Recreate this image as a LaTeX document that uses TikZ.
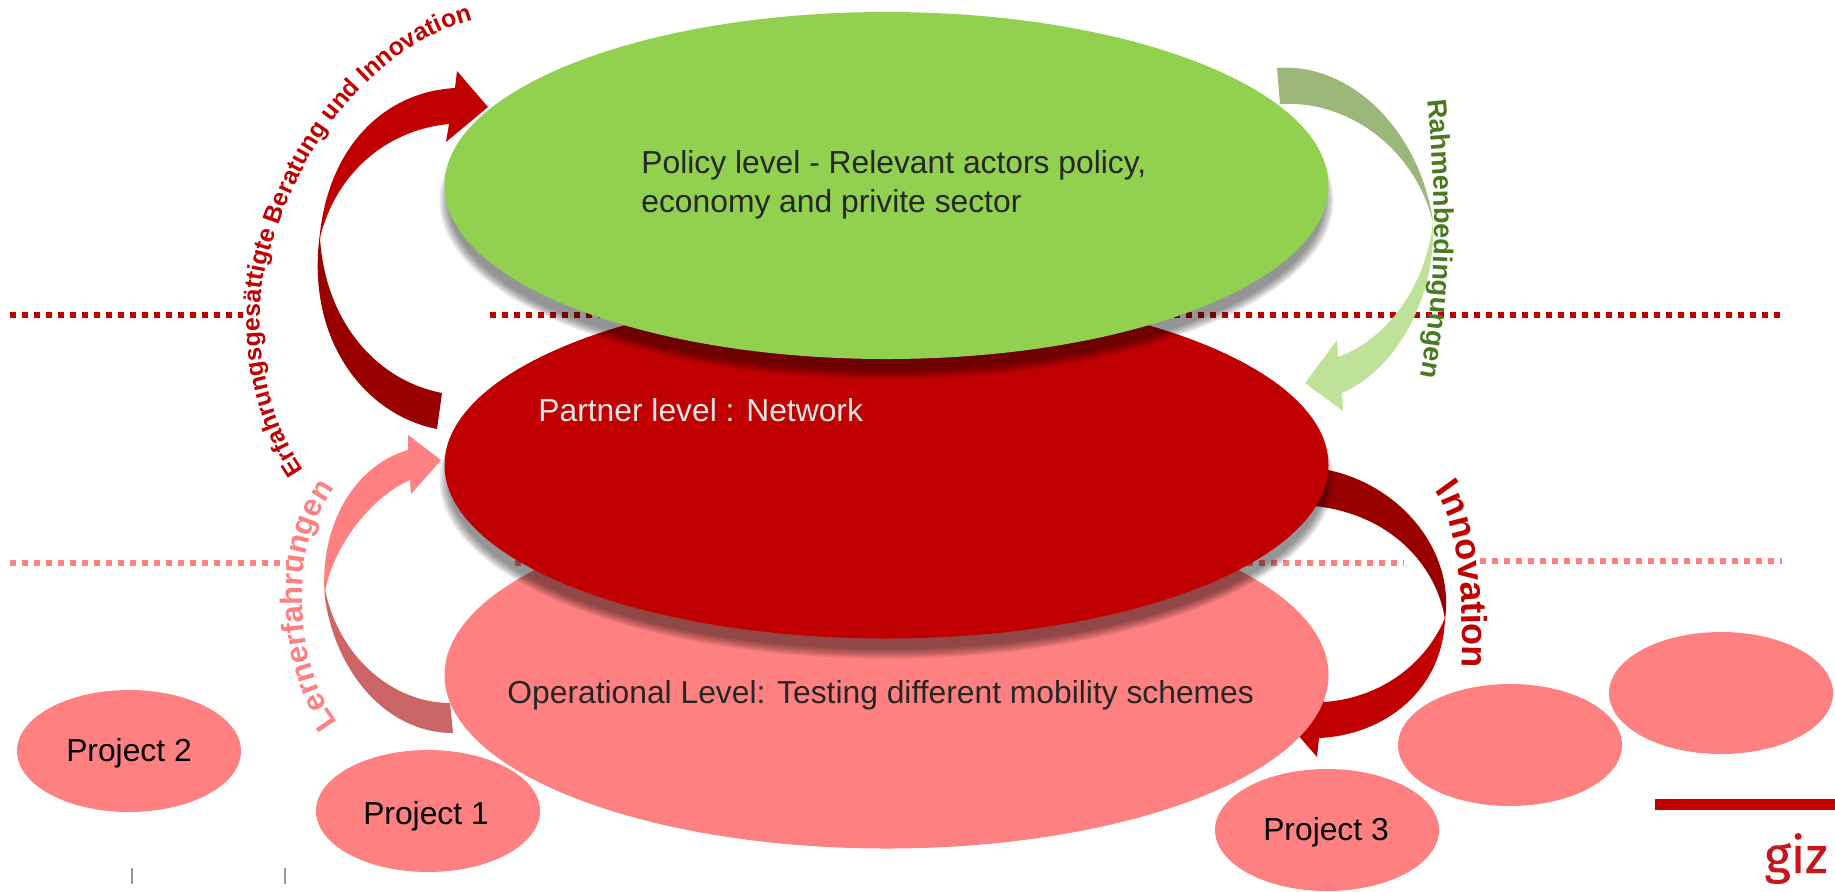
\documentclass[tikz,border=0pt]{standalone}
\usepackage{fontspec}
\setmainfont{Liberation Sans}
\newfontfamily\gizfont[FakeBold=0.7]{Fira Sans}
\usetikzlibrary{shapes.geometric,decorations.text}
\definecolor{cgreen}{HTML}{92D050}
\definecolor{cred}{HTML}{C00000}
\definecolor{cpink}{HTML}{FF8080}
\definecolor{cdark}{HTML}{990000}
\definecolor{cmute}{HTML}{CC6565}
\definecolor{colive}{HTML}{9BB87A}
\definecolor{clight}{HTML}{BFE299}
\definecolor{ctext}{HTML}{262626}
\definecolor{cgrtext}{HTML}{4A7A20}
\definecolor{cgiz}{HTML}{C4161C}
\tikzset{
  bigell/.style={ellipse,inner sep=0pt,minimum width=442pt,minimum height=173.5pt},
  smallell/.style={ellipse,inner sep=0pt,minimum width=112pt,minimum height=61pt,fill=cpink},
  dotline/.style={line width=3pt,dash pattern=on 3pt off 3pt},
  lbl/.style={inner sep=0pt,font=\fontsize{15.9}{19}\selectfont},
  plbl/.style={inner sep=0pt,font=\fontsize{15.9}{19}\selectfont,text=black},
  tick/.style={draw=gray!80,line width=0.7pt},
}
\newcommand{\softshadow}[2]{%
  \foreach \d in {0,1,2,3,4,5}{
    \fill[black,opacity=0.085] (#1,#2+15) ellipse [x radius=221pt+2.5pt-\d*0.9pt, y radius=86.75pt+2.5pt-\d*0.9pt];
  }}
\begin{document}
\begin{tikzpicture}[x=0.5pt,y=-0.5pt]
\useasboundingbox (0,0) rectangle (1835,891);
% dotted level lines
\coordinate (r1) at (10,315); \coordinate (r2) at (243,315);
\coordinate (r3) at (490,315); \coordinate (r4) at (1782,315);
\coordinate (p1) at (10,563); \coordinate (p2) at (289,563);
\coordinate (p3) at (515,563); \coordinate (p4) at (1404,563);
\coordinate (p5) at (1480,561); \coordinate (p6) at (1782,561);
\draw[dotline,cred] (r1) -- (r2);
\draw[dotline,cred] (r3) -- (r4);
\draw[dotline,cpink] (p1) -- (p2);
\draw[dotline,cpink] (p3) -- (p4);
\draw[dotline,cpink] (p5) -- (p6);
% arrow: upper left
\fill[cdark] (320,233) .. controls (305,340) and (365,415) .. (437,429) -- (442,393)
   .. controls (375,380) and (325,320) .. (320,238) -- cycle;
\fill[cred] (320,238) .. controls (335,175) and (385,130) .. (449,124) -- (446,142) -- (488,107)
   -- (457,71) -- (455,88) .. controls (385,92) and (330,145) .. (320,233) -- cycle;
% arrow: upper right
\fill[colive] (1277,68) .. controls (1350,62) and (1420,130) .. (1433,222)
   .. controls (1415,150) and (1350,100) .. (1280,104) -- cycle;
\fill[clight] (1433,222) .. controls (1436,300) and (1395,370) .. (1342,393) -- (1343,411) -- (1305,383)
   -- (1337,340) -- (1338,357) .. controls (1385,340) and (1425,290) .. (1433,222) -- cycle;
% arrow: lower left
\fill[cmute] (325,598) .. controls (335,670) and (385,733) .. (453,733) -- (450,703)
   .. controls (395,703) and (340,660) .. (325,590) -- cycle;
\fill[cpink] (325,593) .. controls (330,555) and (365,500) .. (410,480) -- (411,494) -- (441,460)
   -- (408,435) -- (408,450) .. controls (355,465) and (318,525) .. (325,600) -- cycle;
% arrow: lower right
\fill[cdark] (1328,470) .. controls (1400,485) and (1455,550) .. (1445,620)
   .. controls (1438,570) and (1395,515) .. (1315,506) -- cycle;
\fill[cred] (1445,618) .. controls (1443,690) and (1385,735) .. (1319,738) -- (1317,757) -- (1285,720)
   -- (1320,680) -- (1324,702) .. controls (1380,698) and (1425,665) .. (1445,618) -- cycle;
% large ellipses
\node[bigell,fill=cpink] (oper) at (886.5,675) {};
\softshadow{886.5}{465}
\node[bigell,fill=cred] (part) at (886.5,465) {};
\softshadow{886.5}{185.5}
\node[bigell,fill=cgreen] (poli) at (886.5,185.5) {};
% small ellipses
\node[smallell] (pr2) at (129,751) {};
\node[smallell] (pr1) at (428,811) {};
\node[smallell] (pr3) at (1327,830) {};
\node[smallell] (pr4) at (1510,745) {};
\node[smallell] (pr5) at (1721,693) {};
% labels
\node[lbl,text=ctext,align=left,anchor=west] (tpoli) at (641,185) {Policy level - Relevant actors policy,\\[0.5pt]economy and privite sector};
\node[lbl,text=white!90!black,anchor=west] (tpart) at (538,410) {Partner level : Network};
\node[lbl,text=ctext,anchor=west] (toper) at (507,695) {Operational Level: Testing different mobility schemes};
\node[plbl] (t2) at (129,753) {Project 2};
\node[plbl] (t1) at (426,816) {Project 1};
\node[plbl] (t3) at (1326,832) {Project 3};
% curved texts
\path[decorate,decoration={text along path,text={|\bfseries\fontsize{12.4}{14}\selectfont\color{cred}|Erfahrungsgesättigte Beratung und Innovation}}]
  (304,470) .. controls (250,390) and (250,290) .. (279,225) .. controls (310,130) and (385,40) .. (480,18);
\path[decorate,decoration={text along path,text={|\bfseries\fontsize{13.6}{15}\selectfont\color{cgrtext}|Rahmenbedingungen}}]
  (1427,100) .. controls (1436,180) and (1440,290) .. (1418,385);
\path[decorate,decoration={text along path,text={|\bfseries\fontsize{18}{20}\selectfont\color{cred}|Innovation}}]
  (1434,491) .. controls (1456,515) and (1466,590) .. (1461,680);
\path[decorate,decoration={text along path,text={|\bfseries\fontsize{15.5}{18}\selectfont\color{cpink}|Lernerfahrungen}}]
  (338,722) .. controls (305,682) and (294,600) .. (308,545) .. controls (313,525) and (325,495) .. (350,470);
% footer
\coordinate (k1) at (132,868); \coordinate (k2) at (132,884);
\coordinate (k3) at (285,868); \coordinate (k4) at (285,884);
\draw[tick] (k1) -- (k2);
\draw[tick] (k3) -- (k4);
\fill[cred] (1655,799) rectangle (1835,810);
\node[inner sep=0pt,anchor=base,text=cgiz,font=\gizfont\fontsize{25.5}{28}\selectfont] (giz) at (1796,873) {giz};
\end{tikzpicture}
\end{document}
